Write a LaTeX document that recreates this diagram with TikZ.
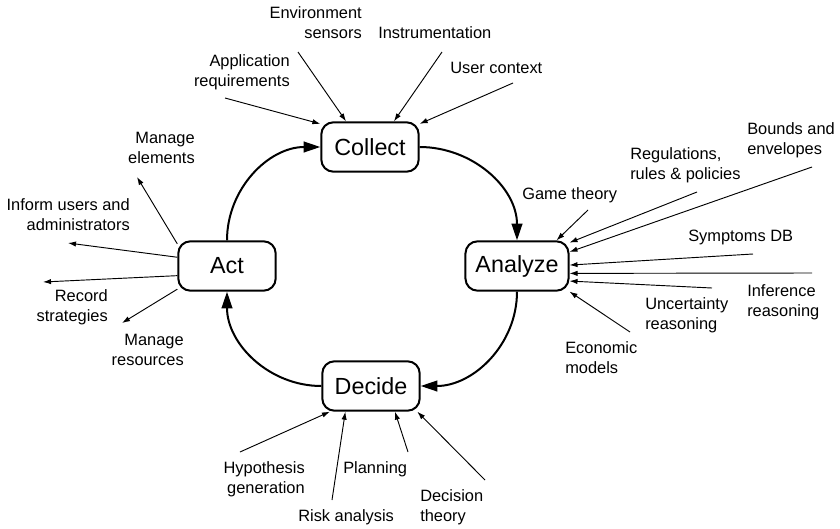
\documentclass[tikz,border=0pt]{standalone}
\usepackage{fontspec}
\setmainfont{Liberation Sans}
\usetikzlibrary{arrows.meta}

\begin{document}
\begin{tikzpicture}[x = 0.75pt, y = -0.75pt,
  phase/.style = {draw, line width = 1.5pt, rounded corners = 9pt, minimum width = 73pt, minimum height = 37pt, inner xsep = 7.5pt, font = \fontsize{17.5}{20}\selectfont},
  lbl/.style = {inner sep = 0pt, font = \fontsize{12.3}{15}\selectfont},
  loop/.style = {line width = 1.5pt, -{Triangle[length = 12.5pt, width = 8pt]}},
  feed/.style = {line width = 0.7pt, -{Latex[length = 6pt, width = 4pt]}}]
\useasboundingbox (0, 0) rectangle (840, 529);

% the four phases
\node[phase] (collect) at (370, 147) {Collect};
\node[phase] (analyze) at (517, 266) {Analyze};
\node[phase] (decide) at (371, 386) {Decide};
\node[phase] (act) at (227, 266) {Act};

\draw[loop] (collect.east) to[out = 0, in = 90] (analyze.north);
\draw[loop] (analyze.south) to[out = -90, in = 0] (decide.east);
\draw[loop] (decide.west) to[out = 180, in = -90] (act.south);
\draw[loop] (act.north) to[out = 90, in = 180] (collect.west);

% inputs of collect
\node[lbl, anchor = east, align = right] (env) at (362, 23) {Environment\\sensors};
\node[lbl, anchor = west] (instr) at (378, 33) {Instrumentation};
\node[lbl, anchor = east, align = right] (appreq) at (290, 72) {Application\\requirements};
\node[lbl, anchor = west] (usrctx) at (450, 68) {User context};
\coordinate (envS) at (298, 52);
\coordinate (instrS) at (442, 52);
\coordinate (appreqS) at (225, 98);
\coordinate (usrctxS) at (513, 83);
\draw[feed] (envS) -- (collect.133);
\draw[feed] (instrS) -- (collect.47);
\draw[feed] (appreqS) -- (collect.155);
\draw[feed] (usrctxS) -- (collect.25);

% inputs of analyze
\node[lbl, anchor = west] (game) at (522, 195) {Game theory};
\node[lbl, anchor = west, align = left] (regul) at (630, 165) {Regulations,\\rules \& policies};
\node[lbl, anchor = west, align = left] (bounds) at (747, 140) {Bounds and\\envelopes};
\node[lbl, anchor = west] (sympt) at (688, 237) {Symptoms DB};
\node[lbl, anchor = west, align = left] (infer) at (747, 302) {Inference\\reasoning};
\node[lbl, anchor = west, align = left] (uncert) at (645, 315) {Uncertainty\\reasoning};
\node[lbl, anchor = west, align = left] (econ) at (565, 358) {Economic\\models};
\coordinate (gameS) at (588, 210);
\coordinate (regulS) at (697, 192);
\coordinate (boundsS) at (812, 167);
\coordinate (symptS) at (753, 254);
\coordinate (inferS) at (812, 273);
\coordinate (uncertS) at (712, 288);
\coordinate (econS) at (630, 332);
\draw[feed] (gameS) -- (analyze.33);
\draw[feed] (regulS) -- (analyze.24);
\draw[feed] (boundsS) -- (analyze.15);
\draw[feed] (symptS) -- (analyze.1);
\draw[feed] (inferS) -- (analyze.-8);
\draw[feed] (uncertS) -- (analyze.-16);
\draw[feed] (econS) -- (analyze.-26);

% inputs of decide
\node[lbl, anchor = east, align = right] (hypo) at (305, 479) {Hypothesis\\generation};
\node[lbl, anchor = west] (risk) at (298, 517) {Risk analysis};
\node[lbl, anchor = west] (plan) at (343, 469) {Planning};
\node[lbl, anchor = west, align = left] (dectheo) at (420, 507) {Decision\\theory};
\coordinate (hypoS) at (240, 452);
\coordinate (riskS) at (332, 500);
\coordinate (planS) at (408, 452);
\coordinate (dectheoS) at (485, 480);
\draw[feed] (hypoS) -- (decide.-148);
\draw[feed] (riskS) -- (decide.-135);
\draw[feed] (planS) -- (decide.-47);
\draw[feed] (dectheoS) -- (decide.-29);

% outputs of act
\node[lbl, anchor = east, align = right] (elems) at (195, 148) {Manage\\elements};
\node[lbl, anchor = east, align = right] (inform) at (130, 215) {Inform users and\\administrators};
\node[lbl, anchor = east, align = right] (record) at (108, 307) {Record\\strategies};
\node[lbl, anchor = east, align = right] (resrc) at (184, 350) {Manage\\resources};
\coordinate (elemsE) at (137, 177);
\coordinate (informE) at (68, 243);
\coordinate (recordE) at (43, 282);
\coordinate (resrcE) at (122, 323);
\draw[feed] (act.156) -- (elemsE);
\draw[feed] (act.170) -- (informE);
\draw[feed] (act.-169) -- (recordE);
\draw[feed] (act.-155) -- (resrcE);
\end{tikzpicture}
\end{document}
